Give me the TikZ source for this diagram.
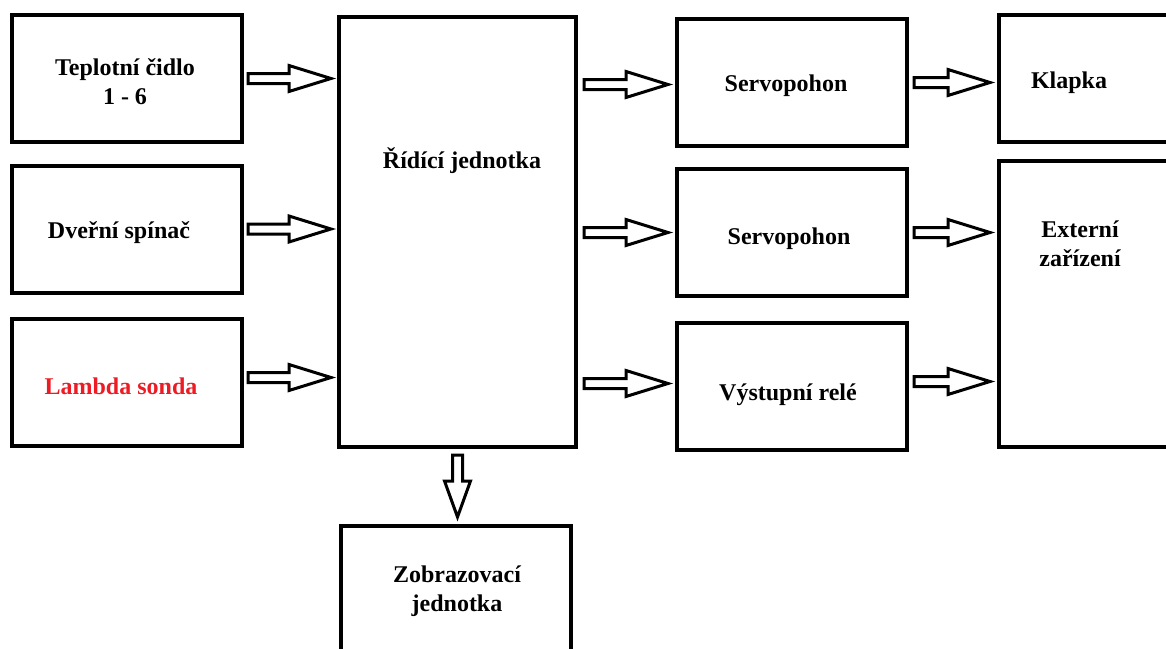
\documentclass[tikz,border=0pt]{standalone}
\usepackage{fontspec}
\setmainfont{Liberation Serif}
\usetikzlibrary{calc}
\definecolor{paintred}{RGB}{237,28,36}
\begin{document}
\begin{tikzpicture}[x=1pt, y=-1pt,
    box/.style={rectangle, draw, line width=4pt, inner sep=0pt},
    lbl/.style={align=center, font=\bfseries\fontsize{24}{29}\selectfont},
    barrow/.style={draw, fill=white, line width=3pt, to path={
        let \p1=(\tikztostart), \p2=(\tikztotarget) in
        (\x1,\y1+5pt) -- (\x2-42pt,\y1+5pt) -- (\x2-42pt,\y1+13pt)
        -- (\x2,\y1) -- (\x2-42pt,\y1-13pt) -- (\x2-42pt,\y1-5pt)
        -- (\x1,\y1-5pt) -- cycle}},
    darrow/.style={draw, fill=white, line width=3pt, to path={
        let \p1=(\tikztostart), \p2=(\tikztotarget) in
        (\x1-5pt,\y1) -- (\x1-5pt,\y2+36pt) -- (\x1-13pt,\y2+36pt)
        -- (\x1,\y2) -- (\x1+13pt,\y2+36pt) -- (\x1+5pt,\y2+36pt)
        -- (\x1+5pt,\y1) -- cycle}}]
    \clip (0,0) rectangle (1166,648);
    \fill[white] (0,0) rectangle (1166,648);

    % boxes
    \begin{scope}[every node/.style={box, minimum width=230, minimum height=127}]
      \node (tc) at (127,78.5) {};
      \node (ds) at (127,229) {};
      \node (ls) at (127,382.5) {};
      \node (s1) at (792,82.5) {};
      \node (s2) at (792,232.5) {};
      \node (vr) at (792,386.5) {};
      \node [minimum width=237, minimum height=430] (rj) at (457.5,232) {};
      \node [minimum width=181] (kl) at (1089.5,78.5) {};
      \node [minimum width=181, minimum height=286] (ez) at (1089.5,304) {};
      \node [minimum height=144] (zj) at (456,598) {};
    \end{scope}

    % texts
    \begin{scope}[every node/.style={lbl}]
      \node (tct) at (125,82) {Teplotní čidlo\\1 - 6};
      \node (dst) at (119,233) {Dveřní spínač};
      \node [text=paintred] (lst) at (121,386) {Lambda sonda};
      \node (rjt) at (462,161) {Řídící jednotka};
      \node (s1t) at (786,86) {Servopohon};
      \node (s2t) at (789,239) {Servopohon};
      \node (vrt) at (788,395) {Výstupní relé};
      \node (klt) at (1069,83) {Klapka};
      \node (ezt) at (1080,244) {Externí\\zařízení};
      \node (zjt) at (457,591) {Zobrazovací\\jednotka};
    \end{scope}

    \draw [barrow] ([xshift=4]tc.east) to ([xshift=-6]rj.west |- tc.east);
    \draw [barrow] ([xshift=4]ds.east) to ([xshift=-6]rj.west |- ds.east);
    \draw [barrow] ([xshift=4,yshift=5]ls.east) to ([xshift=-6]rj.west |- ls.east);
    \draw [barrow] ([xshift=6,yshift=-2]rj.east |- s1.west) to ([xshift=-7]s1.west);
    \draw [barrow] ([xshift=6]rj.east |- s2.west) to ([xshift=-7]s2.west);
    \draw [barrow] ([xshift=6,yshift=3]rj.east |- vr.west) to ([xshift=-7]vr.west);
    \draw [barrow] ([xshift=5]s1.east) to ([xshift=-7]kl.west |- s1.east);
    \draw [barrow] ([xshift=5]s2.east) to ([xshift=-7]ez.west |- s2.east);
    \draw [barrow] ([xshift=5,yshift=5]vr.east) to ([xshift=-7]ez.west |- vr.east);
    \draw [darrow] ([yshift=-6]rj.south) to ([yshift=7]zj.north);
  \end{tikzpicture}
\end{document}
